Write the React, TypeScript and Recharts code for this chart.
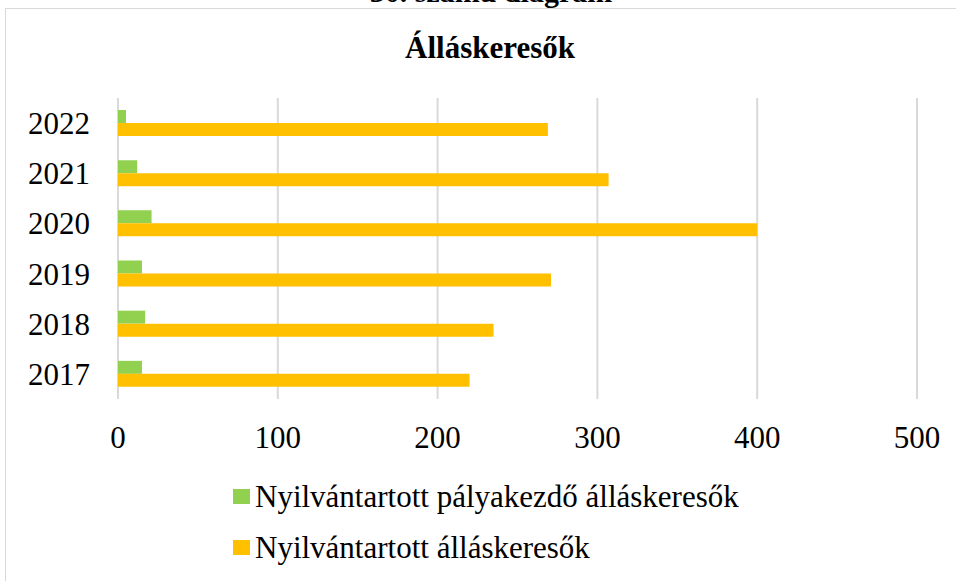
import { BarChart, Bar, XAxis, YAxis, CartesianGrid, Legend } from 'recharts'

const YEARS = ['2022', '2021', '2020', '2019', '2018', '2017']
const PALYAKEZDO = [5, 12, 21, 15, 17, 15]
const ALLASKERESO = [269, 307, 400, 271, 235, 220]
const X_TICKS = [0, 100, 200, 300, 400, 500]

const SERIES = [
  { key: 'palyakezdo', name: 'Nyilvántartott pályakezdő álláskeresők', color: '#92d050' },
  { key: 'allaskereso', name: 'Nyilvántartott álláskeresők', color: '#ffc000' },
]

const FONT = '"Liberation Serif", "Times New Roman", serif'

const data = YEARS.map((year, i) => ({
  year,
  palyakezdo: PALYAKEZDO[i],
  allaskereso: ALLASKERESO[i],
}))

// legend drawn as two stacked rows, square swatch + black text
function renderLegend(props: any) {
  const items = props.payload ?? []
  return (
    <div>
      {items.map((e: any) => (
        <div key={e.value} style={{ display: 'flex', alignItems: 'center', height: 51 }}>
          <span style={{ width: 17, height: 15, background: e.color, marginRight: 5, flex: 'none' }} />
          <span style={{ fontFamily: FONT, fontSize: 31, color: '#000', whiteSpace: 'nowrap' }}>
            {e.value}
          </span>
        </div>
      ))}
    </div>
  )
}

export default function App() {
  return (
    <div
      style={{
        position: 'fixed',
        left: 0,
        top: 0,
        width: 956,
        height: 581,
        overflow: 'hidden',
        background: '#fff',
      }}
    >
      <div
        style={{
          position: 'absolute',
          left: 5,
          top: 8,
          width: 1000,
          height: 700,
          border: '1px solid #d9d9d9',
        }}
      />
      <div
        style={{
          position: 'absolute',
          left: 0,
          top: -23,
          width: 982,
          textAlign: 'center',
          fontFamily: FONT,
          fontWeight: 'bold',
          fontSize: 30,
          lineHeight: 1,
          color: '#000',
        }}
      >
        30. számú diagram
      </div>
      <div
        style={{
          position: 'absolute',
          left: 0,
          top: 32,
          width: 980,
          textAlign: 'center',
          fontFamily: FONT,
          fontWeight: 'bold',
          fontSize: 31,
          lineHeight: 1,
          color: '#000',
        }}
      >
        Álláskeresők
      </div>
      <div style={{ position: 'absolute', left: 0, top: 0 }}>
        <BarChart
          width={956}
          height={581}
          data={data}
          layout="vertical"
          margin={{ top: 98, right: 39, bottom: 152, left: 0 }}
          barGap={0}
          barSize={13}
        >
          <CartesianGrid horizontal={false} stroke="#d9d9d9" strokeWidth={2} />
          <XAxis
            type="number"
            domain={[0, 500]}
            ticks={X_TICKS}
            height={30}
            axisLine={false}
            tickLine={false}
            tickSize={0}
            tickMargin={27}
            tick={{ fontFamily: FONT, fontSize: 31, fill: '#000' }}
          />
          <YAxis
            type="category"
            dataKey="year"
            width={118}
            axisLine={false}
            tickLine={false}
            tickSize={0}
            tickMargin={28}
            tick={{ fontFamily: FONT, fontSize: 31, fill: '#000' }}
          />
          <Legend
            layout="horizontal"
            verticalAlign="middle"
            align="center"
            content={renderLegend}
            wrapperStyle={{ position: 'absolute', top: 471, left: 233, width: 700, height: 102 }}
          />
          {SERIES.map((s) => (
            <Bar key={s.key} dataKey={s.key} name={s.name} fill={s.color} isAnimationActive={false} />
          ))}
        </BarChart>
      </div>
    </div>
  )
}
